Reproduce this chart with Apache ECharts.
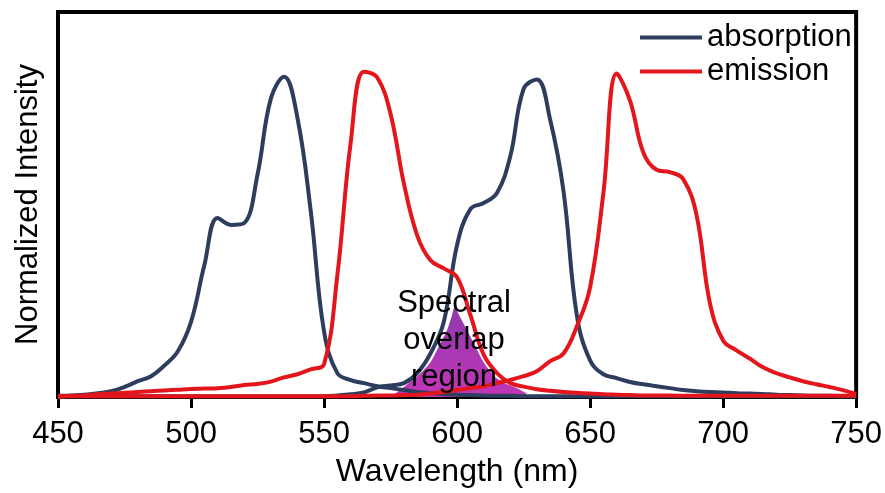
<!DOCTYPE html>
<html>
<head>
<meta charset="utf-8">
<script src="https://cdn.jsdelivr.net/npm/echarts/dist/echarts.min.js"></script>
<style>
    html, body { margin: 0; padding: 0; background: #fff; }
    #main { width: 885px; height: 493px; }
</style>
</head>
<body>
<div id="main"></div>
<script>
// wavelength grid, 450 - 750 nm every 5 nm
var wavelength = [450, 455, 460, 465, 470, 475, 480, 485, 490, 495,
    500, 505, 510, 515, 520, 525, 530, 535, 540, 545,
    550, 555, 560, 565, 570, 575, 580, 585, 590, 595,
    600, 605, 610, 615, 620, 625, 630, 635, 640, 645,
    650, 655, 660, 665, 670, 675, 680, 685, 690, 695,
    700, 705, 710, 715, 720, 725, 730, 735, 740, 745, 750];

// donor absorption
var absorption1 = [0.003, 0.004, 0.006, 0.010, 0.015, 0.026, 0.041, 0.054, 0.082, 0.118,
    0.195, 0.342, 0.465, 0.447, 0.452, 0.578, 0.775, 0.832, 0.725, 0.483,
    0.170, 0.062, 0.044, 0.036, 0.028, 0.023, 0.018, 0.013, 0.010, 0.008,
    0.006, 0.005, 0.004, 0.003, 0.003, 0.002, 0.002, 0.002, 0.002, 0.002,
    0.002, 0.002, 0.002, 0.002, 0.002, 0.002, 0.002, 0.002, 0.002, 0.002,
    0.002, 0.002, 0.002, 0.002, 0.002, 0.002, 0.002, 0.002, 0.002, 0.002, 0.002];

// acceptor absorption
var absorption2 = [0.002, 0.002, 0.002, 0.002, 0.002, 0.002, 0.002, 0.002, 0.002, 0.002,
    0.002, 0.002, 0.002, 0.002, 0.002, 0.002, 0.002, 0.002, 0.002, 0.002,
    0.002, 0.004, 0.007, 0.012, 0.025, 0.030, 0.036, 0.062, 0.113, 0.195,
    0.395, 0.488, 0.504, 0.530, 0.625, 0.800, 0.825, 0.720, 0.535, 0.213,
    0.095, 0.059, 0.049, 0.039, 0.033, 0.028, 0.023, 0.018, 0.015, 0.013,
    0.012, 0.010, 0.009, 0.008, 0.006, 0.005, 0.004, 0.003, 0.003, 0.002, 0.002];

// donor emission
var emission1 = [0.000, 0.003, 0.004, 0.007, 0.009, 0.011, 0.013, 0.015, 0.017, 0.019,
    0.021, 0.022, 0.023, 0.026, 0.031, 0.034, 0.040, 0.051, 0.059, 0.072,
    0.085, 0.316, 0.660, 0.845, 0.830, 0.735, 0.555, 0.420, 0.355, 0.334,
    0.311, 0.213, 0.110, 0.062, 0.036, 0.027, 0.020, 0.016, 0.013, 0.011,
    0.009, 0.007, 0.006, 0.005, 0.004, 0.004, 0.004, 0.003, 0.003, 0.003,
    0.003, 0.003, 0.003, 0.003, 0.003, 0.003, 0.003, 0.003, 0.003, 0.003, 0.003];

// acceptor emission
var emission2 = [0.002, 0.002, 0.002, 0.002, 0.002, 0.002, 0.002, 0.002, 0.002, 0.002,
    0.002, 0.002, 0.002, 0.002, 0.002, 0.002, 0.002, 0.002, 0.002, 0.002,
    0.002, 0.002, 0.002, 0.003, 0.004, 0.004, 0.005, 0.006, 0.009, 0.013,
    0.018, 0.023, 0.028, 0.036, 0.044, 0.054, 0.067, 0.093, 0.113, 0.183,
    0.285, 0.530, 0.840, 0.770, 0.635, 0.590, 0.584, 0.566, 0.473, 0.245,
    0.147, 0.121, 0.100, 0.077, 0.062, 0.051, 0.041, 0.033, 0.026, 0.018, 0.008];

// shaded overlap region
var overlapWl = [576, 579, 582, 586, 590, 593, 596, 598, 599, 601, 604, 607, 610, 614, 618, 622, 626];
var overlapVal = [0.005, 0.020, 0.037, 0.060, 0.090, 0.130, 0.170, 0.210, 0.232, 0.210, 0.170, 0.130, 0.090, 0.054, 0.035, 0.025, 0.010];

var xTicks = [450, 500, 550, 600, 650, 700, 750];

function pairs(xs, ys) {
    return xs.map(function (x, i) { return [x, ys[i]]; });
}

var blue = '#2d3d5e';
var red = '#e3161d';
var font = 'Liberation Sans, Arial, sans-serif';

var option = {
    animation: false,
    backgroundColor: '#fff',
    grid: {
        left: 58,
        right: 28,
        top: 12,
        bottom: 92,
        show: true,
        borderColor: '#000',
        borderWidth: 4
    },
    legend: {
        data: ['absorption', 'emission'],
        orient: 'vertical',
        left: 635,
        top: 17,
        icon: 'rect',
        itemWidth: 62,
        itemHeight: 4,
        itemGap: 3,
        textStyle: {
            fontFamily: font,
            fontSize: 31,
            color: '#000'
        }
    },
    xAxis: {
        type: 'value',
        min: xTicks[0],
        max: xTicks[xTicks.length - 1],
        interval: 50,
        name: 'Wavelength (nm)',
        nameLocation: 'middle',
        nameGap: 59,
        nameTextStyle: { fontFamily: font, fontSize: 32, color: '#000' },
        axisLine: { show: true, lineStyle: { color: '#000', width: 4 } },
        axisTick: { show: true, length: 11, lineStyle: { color: '#000', width: 3 } },
        axisLabel: { fontFamily: font, fontSize: 31, color: '#000', margin: 22 },
        splitLine: { show: false }
    },
    yAxis: {
        type: 'value',
        min: 0,
        max: 1,
        name: 'Normalized Intensity',
        nameLocation: 'middle',
        nameGap: 14,
        nameTextStyle: { fontFamily: font, fontSize: 31, color: '#000' },
        axisLine: { show: true, lineStyle: { color: '#000', width: 4 } },
        axisTick: { show: false },
        axisLabel: { show: false },
        splitLine: { show: false }
    },
    graphic: [{
        type: 'text',
        x: 454,
        y: 340,
        z: 100,
        style: {
            text: 'Spectral\noverlap\nregion',
            font: '31px Liberation Sans, Arial, sans-serif',
            fill: '#000',
            align: 'center',
            verticalAlign: 'middle',
            textAlign: 'center',
            textVerticalAlign: 'middle',
            lineHeight: 37
        }
    }],
    series: [{
        name: 'overlap',
        type: 'line',
        data: pairs(overlapWl, overlapVal),
        smooth: 0.3,
        showSymbol: false,
        z: 1,
        lineStyle: { width: 0 },
        areaStyle: {
            opacity: 1,
            color: new echarts.graphic.LinearGradient(0, 0, 0, 1, [
                { offset: 0, color: '#8f3aae' },
                { offset: 1, color: '#c236b6' }
            ])
        }
    }, {
        name: 'absorption',
        type: 'line',
        data: pairs(wavelength, absorption1),
        smooth: 0.4,
        showSymbol: false,
        color: blue,
        z: 3,
        lineStyle: { width: 4, color: blue }
    }, {
        name: 'absorption',
        type: 'line',
        data: pairs(wavelength, absorption2),
        smooth: 0.4,
        showSymbol: false,
        color: blue,
        z: 3,
        lineStyle: { width: 4, color: blue }
    }, {
        name: 'emission',
        type: 'line',
        data: pairs(wavelength, emission1),
        smooth: 0.4,
        showSymbol: false,
        color: red,
        z: 4,
        lineStyle: { width: 4, color: red }
    }, {
        name: 'emission',
        type: 'line',
        data: pairs(wavelength, emission2),
        smooth: 0.4,
        showSymbol: false,
        color: red,
        z: 4,
        lineStyle: { width: 4, color: red }
    }]
};

//初始化echarts实例
var myChart = echarts.init(document.getElementById('main'));
myChart.setOption(option);
</script>
</body>
</html>
